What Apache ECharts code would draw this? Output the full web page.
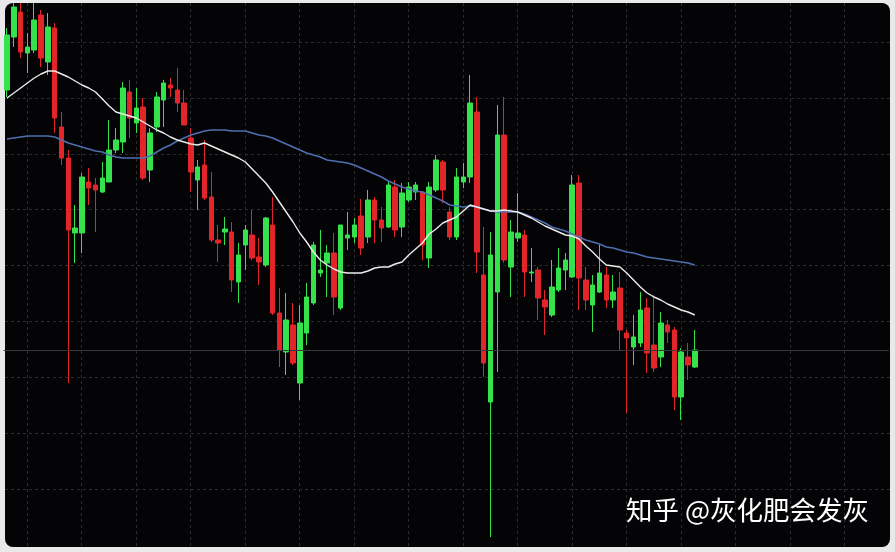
<!DOCTYPE html>
<html>
<head>
<meta charset="utf-8">
<script src="https://cdn.jsdelivr.net/npm/echarts@6/dist/echarts.min.js"></script>
<style>
  html, body { margin: 0; padding: 0; background: #e9e9e9; }
  #panel { position: absolute; left: 5px; top: 3px; width: 885px; height: 544px; background: #040406; border-radius: 8px; }
  #chart { position: absolute; left: 0; top: 0; width: 895px; height: 552px; }
</style>
</head>
<body>
<div id="panel"></div>
<div id="chart"></div>
<script>
// Price index values (one entry per trading session)
const open = [470,523,548,507,510,545,498,532,433,402,
327,327,378,375,368,378,410,418,468,437,
453,390,433,460,475,470,457,422,380,395,
363,320,328,328,278,315,325,303,295,335,
247,208,235,177,227,257,287,297,307,252,
322,323,344,323,360,340,333,373,333,360,
368,368,302,370,398,348,323,378,383,448,
285,158,268,425,293,322,325,287,290,260,
245,270,290,283,377,280,255,268,285,260,
272,227,213,217,252,215,203,235,230,163,
203,193];
const close = [525,553,508,513,540,502,533,442,402,330,
332,383,372,370,382,410,420,472,442,452,
382,427,463,477,472,457,435,388,393,362,
320,317,331,280,305,330,302,298,342,247,
210,240,197,237,263,315,290,307,263,335,
325,335,312,360,340,332,375,330,367,373,
375,315,373,400,370,323,383,383,457,308,
197,305,425,300,328,327,288,288,262,253,
273,292,300,375,282,260,275,287,260,268,
230,222,223,250,207,192,237,228,163,208,
195,210];
const low = [463,513,502,487,507,493,485,427,395,177,
297,307,355,328,367,378,407,407,422,427,
380,378,428,433,463,448,435,368,350,360,
318,298,315,268,257,290,300,275,293,245,
193,185,195,160,215,255,283,263,245,250,
310,317,305,317,317,318,332,323,323,358,
360,300,292,368,357,320,320,372,377,287,
183,23,188,297,263,318,263,278,240,225,
243,268,270,282,250,250,228,267,252,252,
210,147,195,213,187,188,193,217,150,140,
180,192];
const high = [532,557,557,527,557,550,547,537,448,410,
355,387,392,382,398,440,432,478,480,472,
462,432,468,480,482,492,470,432,400,420,
388,335,343,338,317,335,350,322,343,363,
272,267,257,255,277,318,330,315,327,335,
348,342,361,370,363,353,378,380,377,378,
378,368,378,405,400,353,392,397,485,463,
333,328,455,463,340,367,330,312,293,270,
300,312,307,385,385,293,285,315,293,285,
288,230,245,268,262,265,248,240,233,212,
217,230];
// Moving averages as drawn (white = short, blue = long)
const maShort = [462,467,472,477,482,486,489,489,486,483,
479,475,472,468,461,454,448,446,444,442,
438,434,430,427,423,420,418,416,415,417,
414,411,408,405,402,398,391,384,377,368,
358,348,338,327,318,308,300,295,291,288,
287,287,287,289,292,293,293,296,298,305,
311,317,326,331,337,340,343,349,355,353,
351,349,349,350,349,348,345,342,338,334,
331,328,325,324,321,314,308,301,295,294,
293,287,280,273,267,263,260,256,253,250,
248,245];
const maLong = [421,422,423,424,424,424,424,423,420,417,
415,413,411,409,408,405,403,402,402,402,
402,404,408,412,415,419,422,425,427,429,
430,430,430,429,429,429,427,425,424,422,
419,416,413,410,407,405,403,400,399,398,
397,395,392,389,386,383,379,376,373,371,
369,368,365,362,359,355,354,353,354,353,
351,349,348,348,348,348,346,343,340,337,
333,331,329,326,323,320,318,316,313,312,
310,308,307,305,303,302,301,300,299,298,
297,295];
const priceLevel = 210;
const sessions = open.map((_, i) => String(i + 1));
const watermark = '知乎 @灰化肥会发灰';

const candles = open.map((o, i) => [o, close[i], low[i], high[i]]);

const chart = echarts.init(document.getElementById('chart'), null, { renderer: 'canvas' });
const dash = { show: true, lineStyle: { color: '#2c2c2e', type: [3, 3], width: 1 } };
const hidden = { axisLine: { show: false }, axisTick: { show: false }, axisLabel: { show: false } };

chart.setOption({
  backgroundColor: 'transparent',
  animation: false,
  title: {
    text: watermark, left: 626, top: 497, padding: 0,
    textStyle: { color: '#ffffff', fontSize: 26.5, fontWeight: 'normal', fontFamily: 'Noto Sans CJK SC' }
  },
  grid: [
    { left: 3.6, width: 885.3, top: 0, height: 552 },
    { left: 27, width: 817.5, top: 3, height: 544 },
    { left: 5, width: 885, top: 42, height: 447 }
  ],
  xAxis: [
    Object.assign({ gridIndex: 0, type: 'category', data: sessions, max: 129, boundaryGap: true, splitLine: { show: false } }, hidden),
    Object.assign({ gridIndex: 1, type: 'value', min: 0, max: 15, interval: 1, splitLine: dash }, hidden),
    Object.assign({ gridIndex: 2, type: 'value', min: 0, max: 1, splitLine: { show: false } }, hidden)
  ],
  yAxis: [
    Object.assign({ gridIndex: 0, type: 'value', min: 8, max: 560, splitLine: { show: false } }, hidden),
    Object.assign({ gridIndex: 1, type: 'value', min: 0, max: 1, splitLine: { show: false } }, hidden),
    Object.assign({ gridIndex: 2, type: 'value', min: 0, max: 8, interval: 1, splitLine: dash }, hidden)
  ],
  series: [
    {
      type: 'candlestick', xAxisIndex: 0, yAxisIndex: 0, data: candles, barWidth: 5,
      itemStyle: { color: '#34e24c', color0: '#e3252a', borderColor: '#34e24c', borderColor0: '#e3252a', borderWidth: 1 },
      markLine: {
        silent: true, symbol: 'none', label: { show: false },
        lineStyle: { color: '#38383a', type: 'solid', width: 1 },
        data: [{ yAxis: priceLevel }]
      }
    },
    {
      type: 'line', xAxisIndex: 0, yAxisIndex: 0, data: maLong, symbol: 'none',
      lineStyle: { color: '#4f6fb0', width: 1.5 }
    },
    {
      type: 'line', xAxisIndex: 0, yAxisIndex: 0, data: maShort, symbol: 'none',
      lineStyle: { color: '#ececec', width: 1.4 }
    }
  ]
});
</script>
</body>
</html>
